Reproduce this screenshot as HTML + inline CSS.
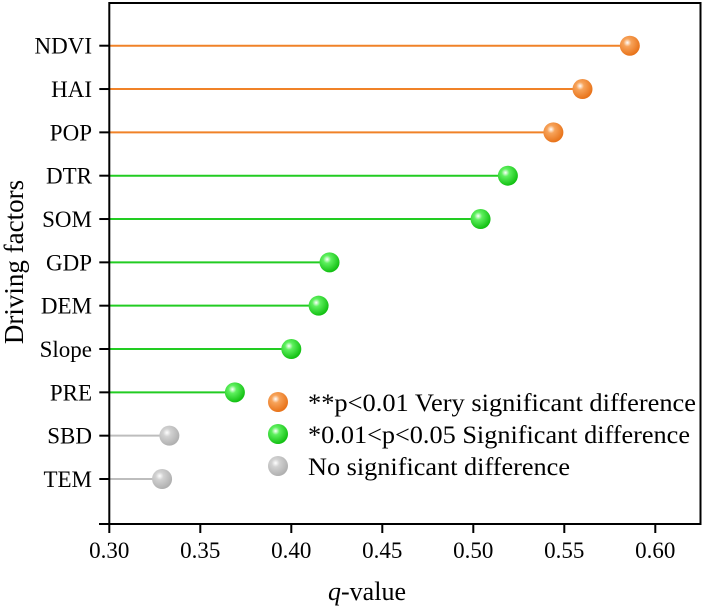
<!DOCTYPE html>
<html><head><meta charset="utf-8"><style>
body{margin:0;background:#fff}
svg{font-family:"Liberation Serif",serif}
</style></head><body>
<svg id="c" width="706" height="609" viewBox="0 0 706 609">
<defs>
<radialGradient id="gO" cx="0.38" cy="0.35" r="0.65"><stop offset="0" stop-color="#fff"/><stop offset="0.3" stop-color="#f7a35a"/><stop offset="1" stop-color="#e8731a"/></radialGradient>
<radialGradient id="gG" cx="0.38" cy="0.35" r="0.65"><stop offset="0" stop-color="#fff"/><stop offset="0.3" stop-color="#5ef05e"/><stop offset="1" stop-color="#12c012"/></radialGradient>
<radialGradient id="gS" cx="0.38" cy="0.35" r="0.65"><stop offset="0" stop-color="#fff"/><stop offset="0.3" stop-color="#d2d2d2"/><stop offset="1" stop-color="#b0b0b0"/></radialGradient>
</defs>
<g id="marks"></g>
<rect x="109.3" y="3" width="591.2" height="521" fill="none" stroke="#000" stroke-width="2"/>
<g id="axes"></g>
<text x="23" y="262" font-size="27" text-anchor="middle" transform="rotate(-90 23 262)">Driving factors</text>
<text x="367" y="600" font-size="26" text-anchor="middle"><tspan font-style="italic">q</tspan>-value</text>
<g>
<circle cx="278" cy="402" r="10" fill="url(#gO)"/>
<text x="308" y="411" font-size="25" textLength="388" lengthAdjust="spacingAndGlyphs">**p&lt;0.01 Very significant difference</text>
<circle cx="278" cy="434" r="10" fill="url(#gG)"/>
<text x="308" y="443" font-size="25" textLength="382" lengthAdjust="spacingAndGlyphs">*0.01&lt;p&lt;0.05 Significant difference</text>
<circle cx="278" cy="466" r="10" fill="url(#gS)"/>
<text x="308" y="475" font-size="25" textLength="262" lengthAdjust="spacingAndGlyphs">No significant difference</text>
</g>
</svg>
<script>
const factors=["NDVI","HAI","POP","DTR","SOM","GDP","DEM","Slope","PRE","SBD","TEM"];
const qValues=[0.586,0.560,0.544,0.519,0.504,0.421,0.415,0.400,0.369,0.333,0.329];
const significance=["very","very","very","sig","sig","sig","sig","sig","sig","none","none"];
const xTicks=[0.30,0.35,0.40,0.45,0.50,0.55,0.60];
const xTickLabels=["0.30","0.35","0.40","0.45","0.50","0.55","0.60"];
const NS="http://www.w3.org/2000/svg";
const x0=109.3,x1=700.5,d0=0.30,d1=0.30+(700.5-109.3)/1820;
const xs=v=>x0+(v-d0)/(d1-d0)*(x1-x0);
const ys=i=>45.7+i*43.33;
const lineCol={very:"#f08228",sig:"#22cc22",none:"#bdbdbd"};
const fillId={very:"url(#gO)",sig:"url(#gG)",none:"url(#gS)"};
function mk(t,a,p){const e=document.createElementNS(NS,t);for(const k in a)e.setAttribute(k,a[k]);p.appendChild(e);return e;}
const marks=document.getElementById("marks"),axes=document.getElementById("axes");
factors.forEach((f,i)=>{
  const s=significance[i],y=ys(i);
  const l=mk("line",{x1:x0,x2:xs(qValues[i]),y1:y,y2:y,stroke:lineCol[s],"stroke-width":2},marks);
  
  
  const c=mk("circle",{cx:xs(qValues[i]),cy:y,r:10,fill:fillId[s]},marks);
  
  
  const t=mk("line",{x1:x0-10,x2:x0,y1:y,y2:y,stroke:"#000","stroke-width":2},axes);
  
  
  const tx=mk("text",{x:92,y:y+8,"font-size":23,"text-anchor":"end"},axes);
  tx.textContent=f;
  
  
});
const ax=mk("line",{x1:99,x2:x0,y1:524,y2:524,stroke:"#000","stroke-width":2},axes);


xTicks.forEach((v,i)=>{
  const t=mk("line",{x1:xs(v),x2:xs(v),y1:524,y2:533,stroke:"#000","stroke-width":2},axes);
  
  
  const tx=mk("text",{x:xs(v),y:558,"font-size":23,"text-anchor":"middle"},axes);
  tx.textContent=xTickLabels[i];
  
  
});
</script>
</body></html>
